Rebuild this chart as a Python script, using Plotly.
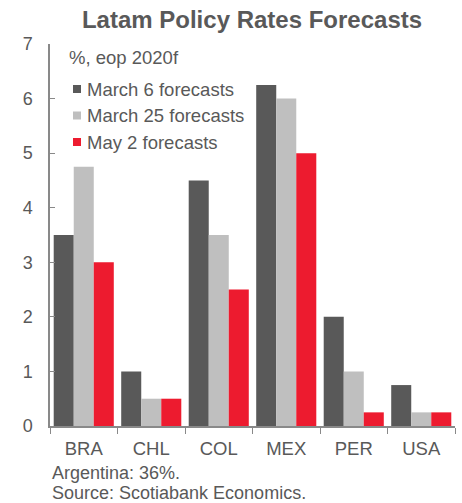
import plotly.graph_objects as go

# Policy rate forecasts, % end of period 2020
countries = ["BRA", "CHL", "COL", "MEX", "PER", "USA"]
march6 = [3.5, 1.0, 4.5, 6.25, 2.0, 0.75]
march25 = [4.75, 0.5, 3.5, 6.0, 1.0, 0.25]
may2 = [3.0, 0.5, 2.5, 5.0, 0.25, 0.25]
series_names = ["March 6 forecasts", "March 25 forecasts", "May 2 forecasts"]
y_ticks = [0, 1, 2, 3, 4, 5, 6, 7]

colors = ["#595959", "#BFBFBF", "#ED1B2F"]
text_color = "#595959"
axis_color = "#898989"
font_family = "Liberation Sans, Arial, sans-serif"

W, H = 462, 503
M_L, M_R, M_T, M_B = 50, 7, 44, 77
PLOT_W = W - M_L - M_R
PLOT_H = H - M_T - M_B


def px_x(px):
    """Horizontal pixel -> paper coordinate."""
    return (px - M_L) / PLOT_W


def px_y(py):
    """Vertical pixel (from top) -> paper coordinate."""
    return (H - M_B - py) / PLOT_H


fig = go.Figure()
for i, (name, vals) in enumerate(zip(series_names, [march6, march25, may2])):
    fig.add_trace(go.Bar(
        x=countries, y=vals, name=name,
        marker=dict(color=colors[i], line=dict(width=0)),
        showlegend=False,
    ))

fig.update_layout(
    width=W, height=H,
    margin=dict(l=M_L, r=M_R, t=M_T, b=M_B),
    paper_bgcolor="white", plot_bgcolor="white",
    font=dict(family=font_family, size=18, color=text_color),
    barmode="group", bargap=0.11, bargroupgap=0,
    title=dict(
        text="<b>Latam Policy Rates Forecasts</b>",
        font=dict(size=24, color=text_color, family=font_family),
        x=252 / W, xref="container", xanchor="center",
        y=1 - 20 / H, yref="container", yanchor="middle",
    ),
    xaxis=dict(
        range=[-0.5, 5.5], showline=True, linecolor=axis_color, linewidth=1.5,
        ticks="outside", ticklen=6, tickcolor=axis_color, tickson="boundaries",
        showgrid=False, ticklabelstandoff=5,
        tickfont=dict(size=18.5, color=text_color),
    ),
    yaxis=dict(
        range=[0, 7], tickvals=y_ticks, showline=True, linecolor=axis_color,
        linewidth=1.5, ticks="inside", ticklen=5, tickcolor=axis_color,
        showgrid=False, zeroline=False, ticklabelstandoff=12,
        tickfont=dict(size=18, color=text_color),
    ),
)

# Legend: heading, colour swatches and series labels
fig.add_annotation(text="%, eop 2020f", xref="paper", yref="paper",
                   x=px_x(67), y=px_y(57), xanchor="left", yanchor="middle",
                   showarrow=False, font=dict(size=18.5, color=text_color))
row_centres = [89, 115.5, 142]
for name, col, cy in zip(series_names, colors, row_centres):
    fig.add_shape(type="rect", xref="paper", yref="paper",
                  x0=px_x(73), x1=px_x(81), y0=px_y(cy + 4), y1=px_y(cy - 4),
                  fillcolor=col, line=dict(width=0))
    fig.add_annotation(text=name, xref="paper", yref="paper",
                       x=px_x(85), y=px_y(cy), xanchor="left", yanchor="middle",
                       showarrow=False, font=dict(size=18.5, color=text_color))

# Footnotes
fig.add_annotation(text="Argentina: 36%.", xref="paper", yref="paper",
                   x=px_x(50), y=px_y(473), xanchor="left", yanchor="middle",
                   showarrow=False, font=dict(size=18, color=text_color))
fig.add_annotation(text="Source: Scotiabank Economics.", xref="paper", yref="paper",
                   x=px_x(50), y=px_y(493), xanchor="left", yanchor="middle",
                   showarrow=False, font=dict(size=18, color=text_color))

fig.write_html("out.html")
